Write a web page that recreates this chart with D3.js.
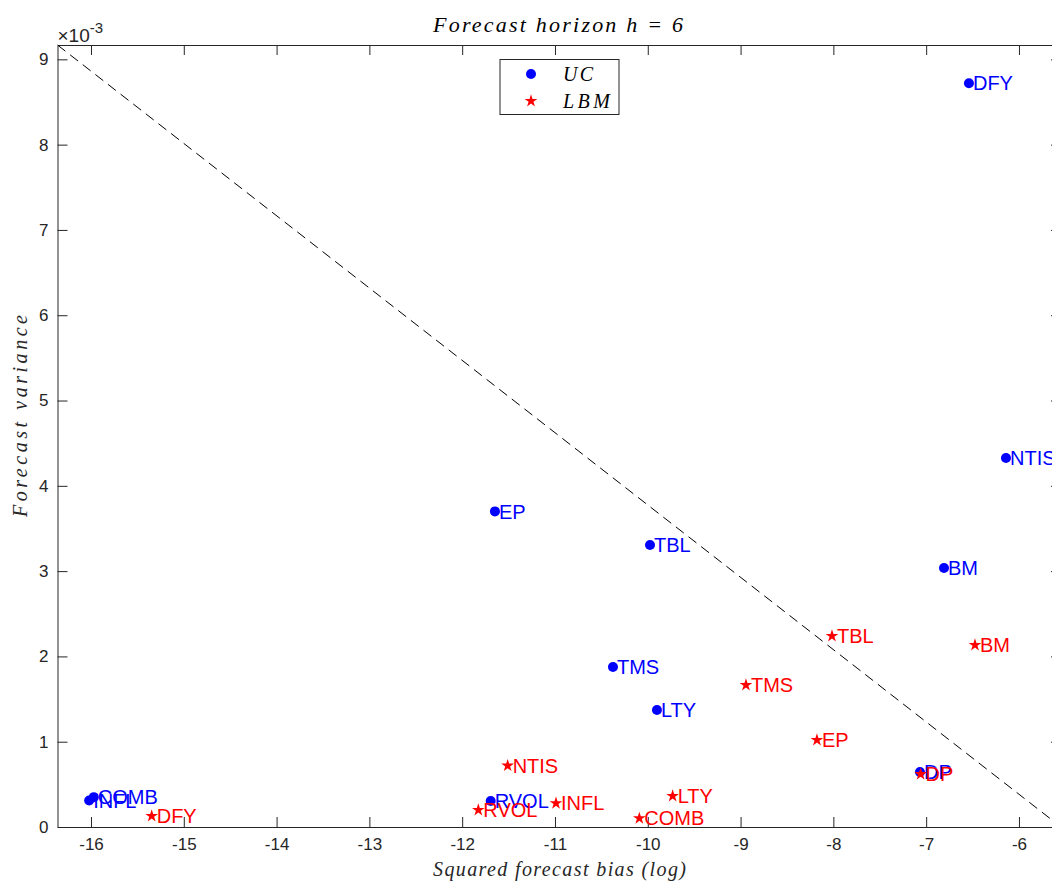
<!DOCTYPE html>
<html><head><meta charset="utf-8">
<script src="https://cdn.jsdelivr.net/npm/d3@7"></script>
<style>
body{margin:0;background:#fff;}
svg{display:block;}
</style></head>
<body>
<svg id="chart" width="1052" height="882"></svg>
<script>
// Data (x: squared forecast bias (log), y: forecast variance in 1e-3)
const ucLabels = ["DFY","NTIS","EP","TBL","BM","TMS","LTY","DP","RVOL","INFL","COMB"];
const ucX = [-6.539,-6.14,-11.647,-9.976,-6.808,-10.375,-9.901,-7.067,-11.693,-16.02,-15.97];
const ucY = [8.72,4.326,3.70,3.306,3.036,1.876,1.372,0.645,0.305,0.31,0.35];
const lbmLabels = ["TBL","BM","TMS","EP","DP","NTIS","RVOL","INFL","LTY","COMB","DFY"];
const lbmX = [-8.015,-6.474,-8.942,-8.177,-7.06,-11.51,-11.826,-10.989,-9.732,-10.091,-15.346];
const lbmY = [2.239,2.134,1.665,1.02,0.62,0.719,0.199,0.278,0.363,0.102,0.129];
const xTicks = [-16,-15,-14,-13,-12,-11,-10,-9,-8,-7,-6];
const yTicks = [0,1,2,3,4,5,6,7,8,9];
const xDomain = [-16.361,-5.547];
const yDomain = [0,9.168];

const svg = d3.select("#chart");
const L=57.5, R=1061, T=45, B=827;
const x = d3.scaleLinear().domain(xDomain).range([L,R]);
const y = d3.scaleLinear().domain(yDomain).range([B,T]);
const axisColor="#262626";
const tickFont='"Liberation Sans", Arial, Helvetica, sans-serif';
const serif='"Liberation Serif","Times New Roman",serif';

// Axes
const fmt = d => String(d);
const gx = svg.append("g").attr("transform",`translate(0,${B})`)
  .call(d3.axisBottom(x).tickValues(xTicks).tickFormat(fmt).tickSizeInner(-10).tickSizeOuter(0).tickPadding(11));
const gxt = svg.append("g").attr("transform",`translate(0,${T})`)
  .call(d3.axisTop(x).tickValues(xTicks).tickFormat("").tickSizeInner(-10).tickSizeOuter(0));
const gy = svg.append("g").attr("transform",`translate(${L},0)`)
  .call(d3.axisLeft(y).tickValues(yTicks).tickFormat(fmt).tickSizeInner(-10).tickSizeOuter(0).tickPadding(9));
const gyr = svg.append("g").attr("transform",`translate(${R},0)`)
  .call(d3.axisRight(y).tickValues(yTicks).tickFormat("").tickSizeInner(-10).tickSizeOuter(0));
[gx,gxt,gy,gyr].forEach(g=>{
  g.selectAll("path.domain").attr("stroke",axisColor).attr("stroke-width",1);
  g.selectAll(".tick line").attr("stroke",axisColor).attr("stroke-width",1);
  g.selectAll("text").attr("fill",axisColor).style("font-family",tickFont).style("font-size","17px");
});
gx.selectAll("text").attr("dy","0.71em");

// exponent
const ex = svg.append("text").attr("x",L).attr("y",41.5).attr("fill",axisColor)
  .style("font-family",tickFont).style("font-size","19px");
ex.append("tspan").text("×10");
ex.append("tspan").attr("dy","-9").style("font-size","15px").text("-3");

// Dashed diagonal
svg.append("line")
  .attr("x1",x(xDomain[0])).attr("y1",y(yDomain[1]))
  .attr("x2",x(xDomain[1])).attr("y2",y(yDomain[0]))
  .attr("stroke","#000").attr("stroke-width",1).attr("stroke-dasharray","10,6");

// Points
const uc = ucLabels.map((l,i)=>({l,x:ucX[i],y:ucY[i]}));
const lbm = lbmLabels.map((l,i)=>({l,x:lbmX[i],y:lbmY[i]}));
svg.append("g").selectAll("circle").data(uc).join("circle")
  .attr("cx",d=>x(d.x)).attr("cy",d=>y(d.y)).attr("r",5).attr("fill","#0000ff");
svg.append("g").selectAll("text").data(uc).join("text")
  .attr("x",d=>x(d.x)+4).attr("y",d=>y(d.y)).attr("dy","0.36em")
  .attr("fill","#0000ff").style("font-family",tickFont).style("font-size","20px").text(d=>d.l);

const star = d3.symbol().type(d3.symbolStar).size(50);
svg.append("g").selectAll("path").data(lbm).join("path")
  .attr("transform",d=>`translate(${x(d.x)},${y(d.y)})`).attr("d",star).attr("fill","#ff0000");
svg.append("g").selectAll("text").data(lbm).join("text")
  .attr("x",d=>x(d.x)+5).attr("y",d=>y(d.y)).attr("dy","0.36em")
  .attr("fill","#ff0000").style("font-family",tickFont).style("font-size","20px").text(d=>d.l);

// Title and labels
svg.append("text").attr("x",433).attr("y",31.5)
  .attr("textLength",250).attr("lengthAdjust","spacing")
  .style("font-family",serif).style("font-style","italic").style("font-size","22px").attr("fill","#000")
  .text("Forecast horizon h = 6");
svg.append("text").attr("x",433).attr("y",876)
  .attr("textLength",253).attr("lengthAdjust","spacing")
  .style("font-family",serif).style("font-style","italic").style("font-size","20px").attr("fill","#262626")
  .text("Squared forecast bias (log)");
svg.append("text").attr("transform",`translate(27,517) rotate(-90)`)
  .attr("textLength",202).attr("lengthAdjust","spacing")
  .style("font-family",serif).style("font-style","italic").style("font-size","20px").attr("fill","#262626")
  .text("Forecast variance");

// Legend
const lg = svg.append("g");
lg.append("rect").attr("x",500).attr("y",59.5).attr("width",119).attr("height",55)
  .attr("fill","#fff").attr("stroke",axisColor).attr("stroke-width",1);
lg.append("circle").attr("cx",531).attr("cy",74).attr("r",5).attr("fill","#0000ff");
lg.append("path").attr("transform","translate(531,101)").attr("d",star).attr("fill","#ff0000");
lg.append("text").attr("x",563).attr("y",74).attr("dy","0.36em").attr("textLength",30).attr("lengthAdjust","spacing")
  .style("font-family",serif).style("font-style","italic").style("font-size","20px").text("UC");
lg.append("text").attr("x",563).attr("y",101).attr("dy","0.36em").attr("textLength",47).attr("lengthAdjust","spacing")
  .style("font-family",serif).style("font-style","italic").style("font-size","20px").text("LBM");
</script>
</body></html>
